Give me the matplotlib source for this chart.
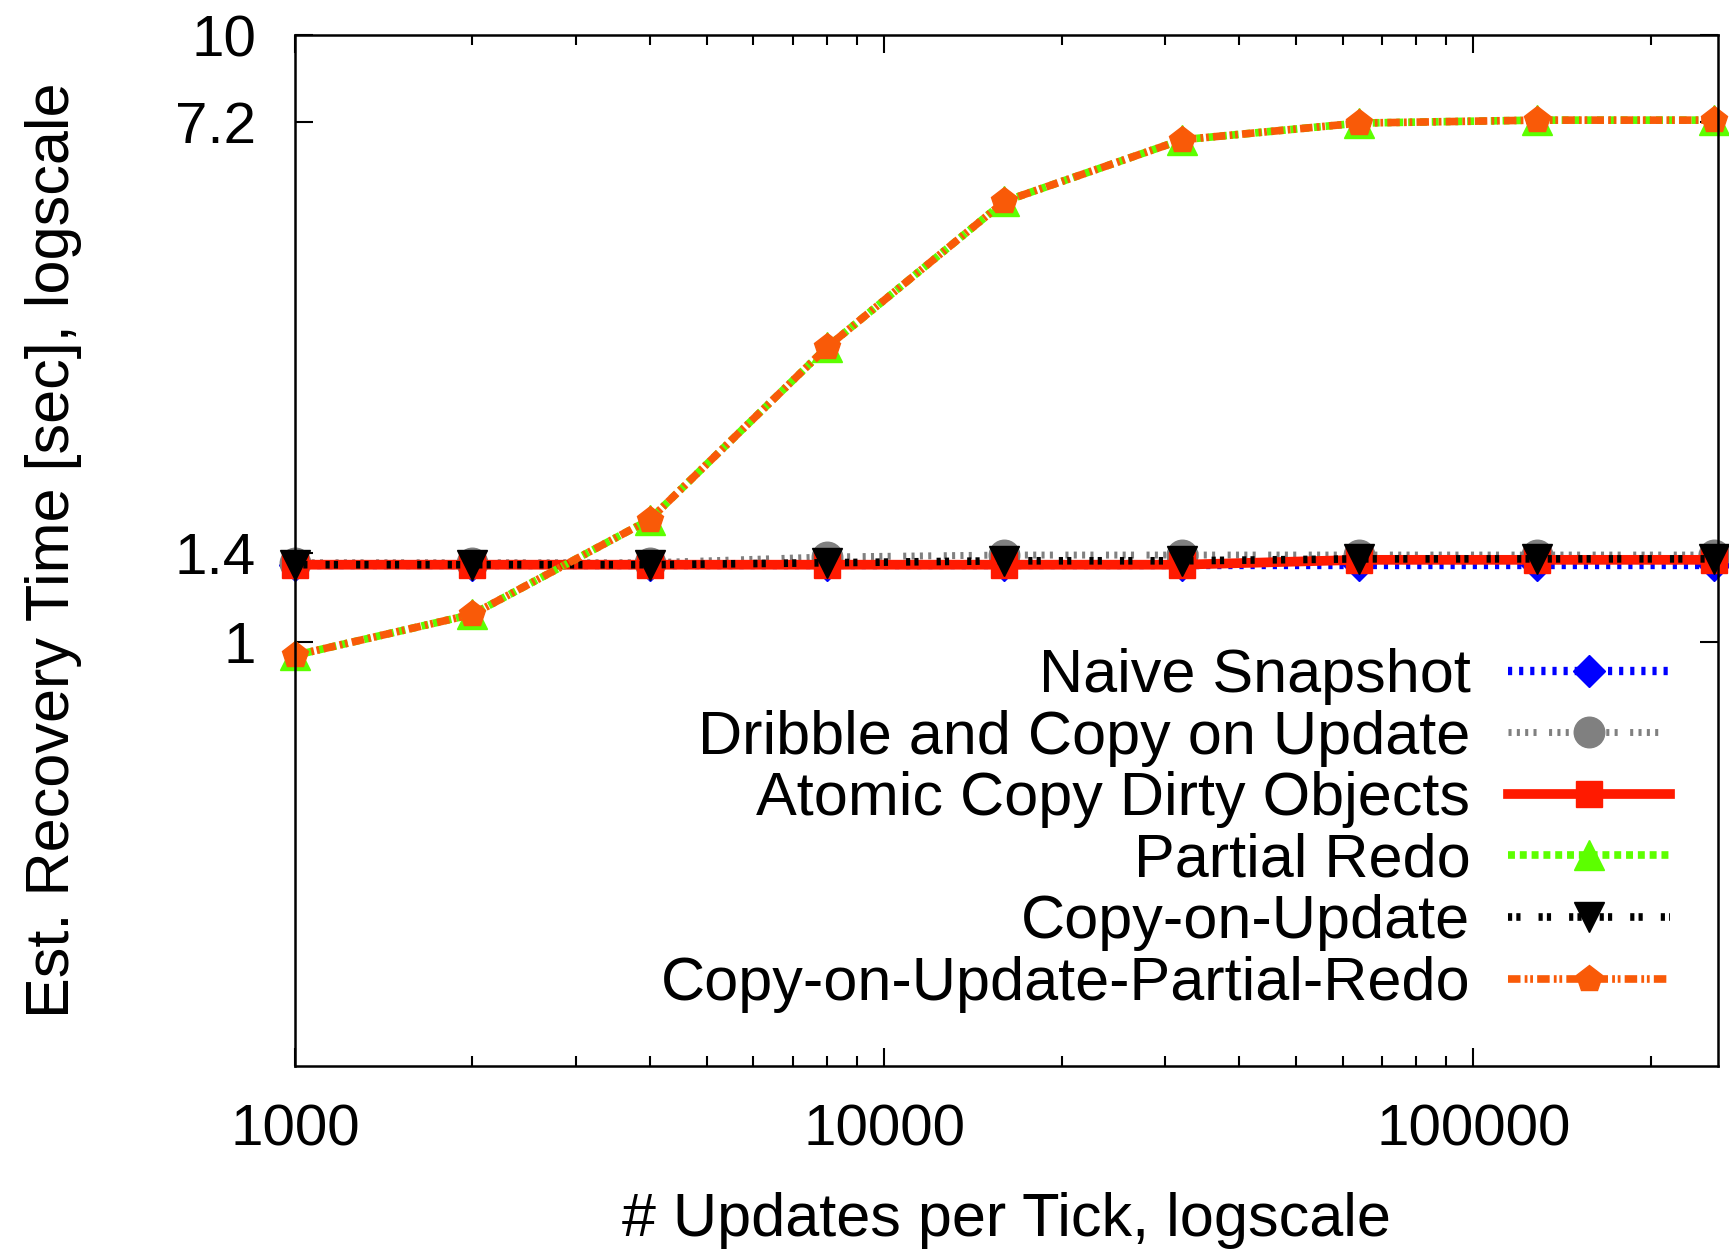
import matplotlib
matplotlib.use("Agg")
import matplotlib.pyplot as plt
from matplotlib.ticker import FixedLocator, NullFormatter, LogLocator

plt.rcParams['font.family'] = ['Liberation Sans', 'DejaVu Sans']
plt.rcParams['lines.scale_dashes'] = False

# ---- data ----
updates = [1000, 2000, 4000, 8000, 16000, 32000, 64000, 128000, 256000]
naive_snapshot = [1.34, 1.34, 1.34, 1.34, 1.34, 1.34, 1.34, 1.34, 1.34]
dribble_cou = [1.35, 1.35, 1.35, 1.38, 1.39, 1.39, 1.39, 1.39, 1.39]
atomic_copy = [1.34, 1.34, 1.34, 1.34, 1.34, 1.34, 1.365, 1.365, 1.365]
partial_redo = [0.95, 1.11, 1.59, 3.06, 5.32, 6.72, 7.16, 7.24, 7.24]
copy_on_update = [1.34, 1.34, 1.34, 1.35, 1.36, 1.36, 1.37, 1.37, 1.37]
cou_partial_redo = [0.95, 1.11, 1.59, 3.06, 5.32, 6.72, 7.16, 7.24, 7.24]

labels = ["Naive Snapshot", "Dribble and Copy on Update", "Atomic Copy Dirty Objects",
          "Partial Redo", "Copy-on-Update", "Copy-on-Update-Partial-Redo"]
ytick_vals = [1, 1.4, 7.2, 10]
ytick_labels = ["1", "1.4", "7.2", "10"]
xtick_vals = [1000, 10000, 100000]
xtick_labels = ["1000", "10000", "100000"]

fig = plt.figure(figsize=(17.29, 12.51), dpi=100)
ax = fig.add_axes([0.1706, 0.1479, 0.8230, 0.8241])

series = [
    (naive_snapshot, dict(color='#0000FF', marker='D', ms=16, lw=6, dashes=(3, 5))),
    (dribble_cou, dict(color='#808080', marker='o', ms=22, lw=5,
                       dashes=(2.2, 3.8, 2.2, 3.8, 2.2, 3.8, 2.2, 9))),
    (atomic_copy, dict(color='#FF1A00', marker='s', ms=19, lw=7, linestyle='-')),
    (partial_redo, dict(color='#5CFF00', marker='^', ms=21, lw=5.5, dashes=(5, 3.5))),
    (copy_on_update, dict(color='#000000', marker='v', ms=21, lw=5.5, dashes=(3, 3, 3, 13))),
    (cou_partial_redo, dict(color='#F95A08', marker='p', ms=20, lw=5.5,
                            dashes=(9, 3, 2, 2, 2, 3))),
]
for (vals, style), lab in zip(series, labels):
    ax.plot(updates, vals, label=lab, clip_on=False, **style)

ax.set_xscale('log')
ax.set_yscale('log')
ax.set_xlim(1000, 260000)
ax.set_ylim(0.2, 10)

ax.yaxis.set_major_locator(FixedLocator(ytick_vals))
ax.set_yticklabels(ytick_labels)
ax.yaxis.set_minor_locator(FixedLocator([]))
ax.yaxis.set_minor_formatter(NullFormatter())
ax.xaxis.set_major_locator(FixedLocator(xtick_vals))
ax.set_xticklabels(xtick_labels)
ax.xaxis.set_minor_locator(LogLocator(base=10, subs=range(2, 10)))
ax.xaxis.set_minor_formatter(NullFormatter())

ax.tick_params(which='both', direction='in', top=True, right=True, width=1.5, colors='black')
ax.tick_params(which='major', length=13)
ax.tick_params(which='minor', length=7)
ax.tick_params(axis='x', which='major', labelsize=42, pad=27)
ax.tick_params(axis='y', which='major', labelsize=42, pad=28)
for s in ax.spines.values():
    s.set_linewidth(1.8)

ax.set_xlabel("# Updates per Tick, logscale", fontsize=44)
ax.set_ylabel("Est. Recovery Time [sec], logscale", fontsize=44)
ax.xaxis.set_label_coords(0.5, -0.122)
ax.yaxis.set_label_coords(-0.150, 0.5)

leg = ax.legend(loc='upper right', bbox_to_anchor=(0.966, 0.482), bbox_transform=fig.transFigure,
                frameon=False, markerfirst=False, numpoints=1, fontsize=44,
                handlelength=2.65, handletextpad=0.62, labelspacing=0.075,
                borderpad=0, borderaxespad=0)

fig.savefig("out.png", dpi=100)
